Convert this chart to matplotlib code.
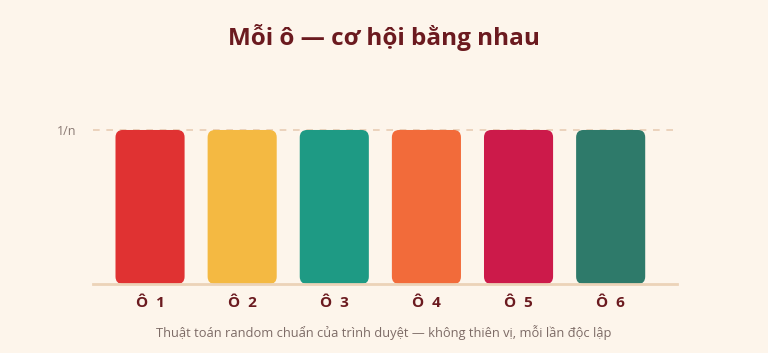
import matplotlib.pyplot as plt
from matplotlib.patches import FancyBboxPatch

# data
labels = ["Ô  1", "Ô  2", "Ô  3", "Ô  4", "Ô  5", "Ô  6"]
probs = [0.167, 0.167, 0.167, 0.167, 0.167, 0.167]
colors = ["#e03232", "#f4b942", "#1e9a84", "#f26b3a", "#cc1a4a", "#2e7a6a"]

BG = "#fdf5eb"
MAROON = "#6b1a1f"

fig = plt.figure(figsize=(7.68, 3.53), dpi=100, facecolor=BG)
ax = fig.add_axes([0.121, 0.1955, 0.7605, 0.5225])
ax.set_facecolor(BG)

x = list(range(len(labels)))
bars = ax.bar(x, probs, width=0.75, color=colors)

# swap plain bars for rounded ones
for b, c in zip(bars, colors):
    b.set_visible(False)
    p = FancyBboxPatch((b.get_x(), b.get_y()), b.get_width(), b.get_height(),
                       boxstyle="round,pad=0,rounding_size=0.08",
                       mutation_aspect=0.1,
                       facecolor=c, edgecolor="none", zorder=3, clip_on=False)
    ax.add_patch(p)

ax.set_xlim(-0.62, 5.72)
ax.set_ylim(0, 0.2)

# reference line for 1/n
ax.axhline(0.167, color="#e8cdb4", lw=1.2, ls=(0, (4, 4)), zorder=1)
ax.axhline(0, color="#ecd3b8", lw=2, zorder=4, clip_on=False)

for s in ax.spines.values():
    s.set_visible(False)
ax.set_yticks([0.167])
ax.set_yticklabels(["1/n"], fontsize=9, color="#8a7a74", family="Open Sans")
ax.tick_params(axis="y", length=0, pad=12)
ax.set_xticks(x)
ax.set_xticklabels(labels, fontsize=11, fontweight="bold", color=MAROON, family="Open Sans")
ax.tick_params(axis="x", length=0, pad=9)

fig.text(0.5, 0.893, "Mỗi ô — cơ hội bằng nhau", ha="center", va="center",
         fontsize=17.5, fontweight="bold", color=MAROON, family="Open Sans")
fig.text(0.5, 0.057, "Thuật toán random chuẩn của trình duyệt — không thiên vị, mỗi lần độc lập",
         ha="center", va="center", fontsize=9.3, color="#7d6b66", family="Open Sans")

fig.savefig("out.png", dpi=100, facecolor=BG)
